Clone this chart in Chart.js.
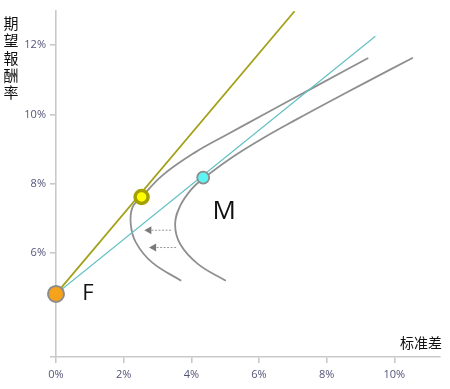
<!DOCTYPE html>
<html>
<head>
<meta charset="utf-8">
<script src="https://cdn.jsdelivr.net/npm/chart.js@4"></script>
<style>
html,body{margin:0;padding:0;background:#fff;}
#wrap{width:450px;height:389px;position:relative;}
</style>
</head>
<body>
<div id="wrap"><canvas id="c" width="450" height="389"></canvas></div>
<script>
// ---- data (values in %) ----
const xTicks = [0, 2, 4, 6, 8, 10];
const yTicks = [6, 8, 10, 12];
const yTitle = ["期", "望", "報", "酬", "率"];
const xTitle = "标准差";

const leftFrontierX  = [3.70, 2.84, 2.36, 2.21, 2.26, 2.52, 3.13, 4.10, 5.07, 6.14, 7.69, 9.23];
const leftFrontierY  = [5.20, 5.73, 6.31, 6.83, 7.32, 7.60, 8.23, 8.90, 9.43, 10.00, 10.82, 11.63];
const rightFrontierX = [5.02, 4.20, 3.67, 3.52, 3.67, 4.00, 4.35, 5.20, 6.14, 7.11, 7.98, 9.20, 10.55];
const rightFrontierY = [5.20, 5.68, 6.26, 6.83, 7.36, 7.84, 8.15, 8.76, 9.33, 9.86, 10.32, 10.95, 11.64];

const oliveLineX = [0, 7.05];
const oliveLineY = [4.82, 12.98];
const tealLineX  = [0, 9.44];
const tealLineY  = [4.82, 12.26];

const pointF = {label: "F", x: 0, y: 4.82};
const pointT = {label: "", x: 2.53, y: 7.62};
const pointM = {label: "M", x: 4.35, y: 8.18};

const arrow1X = [3.40, 2.75];
const arrow1Y = [6.66, 6.66];
const arrow2X = [3.55, 2.89];
const arrow2Y = [6.16, 6.16];

const zip = (xs, ys) => xs.map((x, i) => ({x: x, y: ys[i]}));

const textPlugin = {
  id: 'texts',
  afterDatasetsDraw(chart) {
    const ctx = chart.ctx;
    const xs = chart.scales.x, ys = chart.scales.y;
    ctx.save();
    ctx.fillStyle = '#111';
    ctx.textAlign = 'center';
    ctx.textBaseline = 'middle';
    ctx.font = '15px "Noto Sans CJK SC"';
    yTitle.forEach((ch, i) => ctx.fillText(ch, 11, 23 + i * 17.4));
    ctx.font = '14px "Noto Sans CJK SC"';
    ctx.fillText(xTitle, 421, 343);
    ctx.font = '26px "Open Sans", "Noto Sans", sans-serif';
    ctx.fillText(pointM.label, xs.getPixelForValue(pointM.x) + 21, ys.getPixelForValue(pointM.y) + 34);
    ctx.font = '22px "Open Sans", "Noto Sans", sans-serif';
    ctx.fillText(pointF.label, xs.getPixelForValue(pointF.x) + 32, ys.getPixelForValue(pointF.y) + 0);
    ctx.restore();
  }
};

const gridCol = '#c9c9c9';
new Chart(document.getElementById('c'), {
  type: 'scatter',
  data: {
    datasets: [
      {data: [pointF], pointRadius: 8, pointBorderWidth: 2, pointBackgroundColor: '#f7a21b', pointBorderColor: '#8c8c8c', clip: false, order: 0},
      {data: [pointT], pointRadius: 6.5, pointBorderWidth: 3.5, pointBackgroundColor: '#ffff00', pointBorderColor: '#a3a000', clip: false, order: 0},
      {data: [pointM], pointRadius: 6, pointBorderWidth: 1.8, pointBackgroundColor: '#5ff4f4', pointBorderColor: '#8c8c8c', clip: false, order: 0},
      {data: zip(oliveLineX, oliveLineY), showLine: true, borderColor: '#a3a018', borderWidth: 1.8, pointRadius: 0, order: 2},
      {data: zip(tealLineX, tealLineY), showLine: true, borderColor: '#63c0c3', borderWidth: 1.2, pointRadius: 0, order: 2},
      {data: zip(leftFrontierX, leftFrontierY), showLine: true, borderColor: '#8f8f8f', borderWidth: 1.8, pointRadius: 0, tension: 0.4, order: 3},
      {data: zip(rightFrontierX, rightFrontierY), showLine: true, borderColor: '#8f8f8f', borderWidth: 1.8, pointRadius: 0, tension: 0.4, order: 3},
      {data: zip(arrow1X, arrow1Y), showLine: true, borderColor: '#9a9a9a', borderWidth: 1, borderDash: [2, 1.5], pointRadius: [0, 4.7], pointStyle: 'triangle', pointRotation: -90, pointBackgroundColor: '#7a7a7a', pointBorderColor: '#7a7a7a', pointBorderWidth: 0, order: 1},
      {data: zip(arrow2X, arrow2Y), showLine: true, borderColor: '#9a9a9a', borderWidth: 1, borderDash: [2, 1.5], pointRadius: [0, 4.7], pointStyle: 'triangle', pointRotation: -90, pointBackgroundColor: '#7a7a7a', pointBorderColor: '#7a7a7a', pointBorderWidth: 0, order: 1}
    ]
  },
  options: {
    responsive: false,
    animation: false,
    events: [],
    layout: {padding: {left: 0, right: 4, top: 6, bottom: 0}},
    plugins: {legend: {display: false}, tooltip: {enabled: false}},
    scales: {
      x: {
        type: 'linear', min: 0, max: 11.35,
        afterBuildTicks: s => { s.ticks = xTicks.map(v => ({value: v})); },
        afterFit: s => { s.height = 32; },
        border: {display: true, color: gridCol, width: 1.6},
        grid: {display: true, drawOnChartArea: false, drawTicks: true, tickLength: 6, color: gridCol, lineWidth: 1.6},
        ticks: {padding: 5, color: '#54547a', font: {size: 11, family: '"Open Sans", "Noto Sans", sans-serif'}, maxRotation: 0, callback: v => v + '%'}
      },
      y: {
        type: 'linear', min: 3, max: 13,
        afterBuildTicks: s => { s.ticks = [3].concat(yTicks).map(v => ({value: v})); },
        afterFit: s => { s.width = 56; },
        border: {display: true, color: gridCol, width: 1.6},
        grid: {display: true, drawOnChartArea: false, drawTicks: true, tickLength: 6, color: gridCol, lineWidth: 1.6},
        ticks: {padding: 4, color: '#54547a', font: {size: 11, family: '"Open Sans", "Noto Sans", sans-serif'}, callback: v => (v === 3 ? '' : v + '%')}
      }
    }
  },
  plugins: [textPlugin]
});
</script>
</body>
</html>
